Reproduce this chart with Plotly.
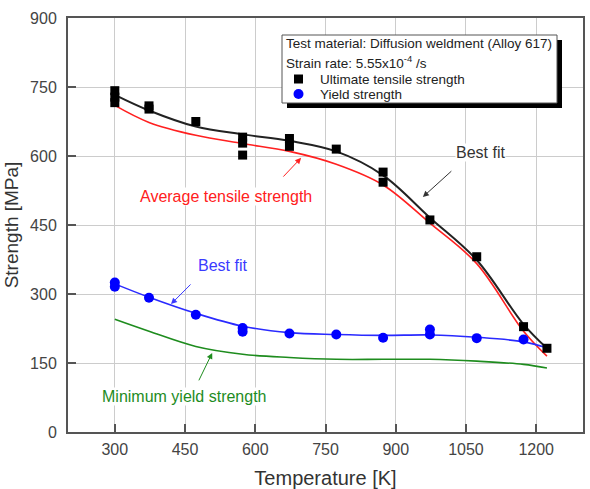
import plotly.graph_objects as go

# ---- data ----
uts_temp = [300, 300, 300, 373, 373, 473, 573, 573, 573, 673, 673, 773, 873, 873, 973, 1073, 1173, 1223]
uts_val = [742, 728, 716, 709, 702, 675, 641, 628, 602, 638, 621, 615, 565, 543, 461, 381, 229, 182]

ys_temp = [300, 300, 373, 473, 573, 573, 673, 773, 873, 973, 973, 1073, 1173]
ys_val = [325, 316, 292, 255, 226, 218, 214, 212, 205, 223, 212, 204, 201]

fit_temp = [300, 373, 473, 573, 673, 773, 873, 973, 1073, 1173, 1223]
uts_fit = [733, 699, 664, 647, 633, 610, 558, 466, 374, 234, 182]
avg_tensile = [710, 673, 645, 627, 610, 582, 537, 454, 366, 219, 165]
ys_fit = [322, 293, 258, 230, 216, 212, 210, 211, 206, 196, 183]
min_yield = [245, 219, 186, 169, 162, 158, 158, 158, 154, 147, 139]

x_ticks = [300, 450, 600, 750, 900, 1050, 1200]
y_ticks = [0, 150, 300, 450, 600, 750, 900]

legend_header = ["Test material: Diffusion weldment (Alloy 617)",
                 "Strain rate: 5.55x10<sup>-4</sup> /s"]
legend_items = ["Ultimate tensile strength", "Yield strength"]

FONT = "Liberation Sans, Arial, sans-serif"

# plot-area geometry (pixels) used for placing the hand-made legend box
L, R, T, B = 68, 7, 18, 57
PW, PH = 590 - L - R, 489 - T - B


def px(xp):
    return (xp - L) / PW


def py(yp):
    return (489 - B - yp) / PH


fig = go.Figure()

fig.add_trace(go.Scatter(x=fit_temp, y=uts_fit, mode="lines", line=dict(color="#222222", width=2, shape="spline"),
                         showlegend=False, hoverinfo="skip"))
fig.add_trace(go.Scatter(x=fit_temp, y=avg_tensile, mode="lines", line=dict(color="#ff2020", width=1.6, shape="spline"),
                         showlegend=False, hoverinfo="skip"))
fig.add_trace(go.Scatter(x=fit_temp, y=ys_fit, mode="lines", line=dict(color="#2a2aff", width=1.6, shape="spline"),
                         showlegend=False, hoverinfo="skip"))
fig.add_trace(go.Scatter(x=fit_temp, y=min_yield, mode="lines", line=dict(color="#1e8c1e", width=1.6, shape="spline"),
                         showlegend=False, hoverinfo="skip"))

fig.add_trace(go.Scatter(x=uts_temp, y=uts_val, mode="markers", name=legend_items[0], showlegend=False,
                         marker=dict(symbol="square", size=9, color="black")))
fig.add_trace(go.Scatter(x=ys_temp, y=ys_val, mode="markers", name=legend_items[1], showlegend=False,
                         marker=dict(symbol="circle", size=10, color="#0000ff")))

# text labels
labels = [
    dict(x=1082, y=607, text="Best fit", color="#333333"),
    dict(x=537, y=511, text="Average tensile strength", color="#ff2020"),
    dict(x=529, y=361, text="Best fit", color="#3a3aff"),
    dict(x=448, y=78, text="Minimum yield strength", color="#1e8c1e"),
]
for lb in labels:
    fig.add_annotation(x=lb["x"], y=lb["y"], text=lb["text"], showarrow=False, bgcolor="white",
                       borderpad=0, font=dict(family=FONT, size=16, color=lb["color"]))

arrows = [
    dict(tx=1022, ty=570, hx=958, hy=511, color="#333333"),
    dict(tx=657, ty=552, hx=698, hy=596, color="#ff2020"),
    dict(tx=465, ty=324, hx=420, hy=278, color="#3a3aff"),
    dict(tx=478, ty=109, hx=508, hy=172, color="#1e8c1e"),
]
for a in arrows:
    fig.add_annotation(x=a["hx"], y=a["hy"], ax=a["tx"], ay=a["ty"], xref="x", yref="y",
                       axref="x", ayref="y", text="", showarrow=True, arrowhead=2,
                       arrowsize=1.2, arrowwidth=1, arrowcolor=a["color"])

# hand-made legend box with shadow
fig.add_shape(type="rect", xref="paper", yref="paper",
              x0=px(287), x1=px(562), y0=py(108), y1=py(40),
              fillcolor="black", line=dict(width=0), layer="above")
fig.add_shape(type="rect", xref="paper", yref="paper",
              x0=px(282), x1=px(557), y0=py(103), y1=py(35),
              fillcolor="white", line=dict(width=1, color="#555555"), layer="above")
for txt, yy in zip(legend_header, [43, 62]):
    fig.add_annotation(x=px(284), y=py(yy), xref="paper", yref="paper", xanchor="left", yanchor="middle",
                       text=txt, showarrow=False, font=dict(family=FONT, size=13.5, color="#222222"))
for txt, yy in zip(legend_items, [79, 94]):
    fig.add_annotation(x=px(318), y=py(yy), xref="paper", yref="paper", xanchor="left", yanchor="middle",
                       text=txt, showarrow=False, font=dict(family=FONT, size=13.5, color="#222222"))
# legend symbols
fig.add_shape(type="rect", xref="paper", yref="paper",
              x0=px(294), x1=px(303), y0=py(83.5), y1=py(74.5),
              fillcolor="black", line=dict(width=0), layer="above")
fig.add_shape(type="circle", xref="paper", yref="paper",
              x0=px(293.5), x1=px(303.5), y0=py(99), y1=py(89),
              fillcolor="#0000ff", line=dict(width=0), layer="above")

fig.update_layout(
    width=590, height=489,
    margin=dict(l=L, r=R, t=T, b=B),
    paper_bgcolor="white", plot_bgcolor="white",
    font=dict(family=FONT, color="#333333"),
    showlegend=False,
    xaxis=dict(range=[200, 1300], tickvals=x_ticks, ticktext=[str(v) for v in x_ticks],
               showgrid=True, gridcolor="#cccccc", gridwidth=1,
               showline=True, linecolor="#555555", linewidth=2, mirror=True,
               ticks="inside", ticklen=8, tickcolor="#555555", tickwidth=1.5,
               ticklabelstandoff=2,
               tickfont=dict(family=FONT, size=16, color="#444444"), zeroline=False, automargin=False,
               title=dict(text="Temperature [K]", font=dict(family=FONT, size=20, color="#333333"), standoff=15)),
    yaxis=dict(range=[0, 900], tickvals=y_ticks, ticktext=[str(v) for v in y_ticks],
               showgrid=True, gridcolor="#cccccc", gridwidth=1,
               showline=True, linecolor="#555555", linewidth=2, mirror=True,
               ticks="inside", ticklen=8, tickcolor="#555555", tickwidth=1.5,
               ticklabelstandoff=6,
               tickfont=dict(family=FONT, size=16, color="#444444"), zeroline=False, automargin=False,
               title=dict(text="Strength [MPa]", font=dict(family=FONT, size=19, color="#333333"), standoff=6)),
)

fig.write_html("out.html")
